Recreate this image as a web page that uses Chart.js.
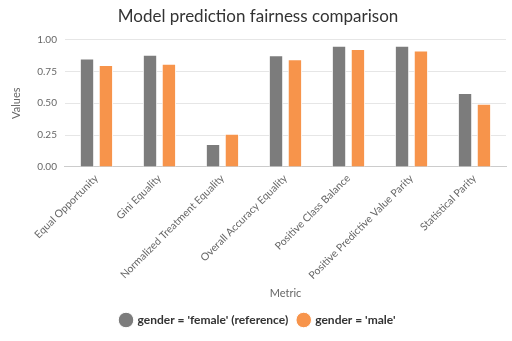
<!DOCTYPE html>
<html>
<head>
<meta charset="utf-8">
<script src="https://cdn.jsdelivr.net/npm/chart.js@4"></script>
<style>
  html, body { margin: 0; padding: 0; background: #fff; }
  #wrap { width: 512px; height: 341px; }
</style>
</head>
<body>
<div id="wrap"><canvas id="myChart" width="512" height="341"></canvas></div>
<script>
/* data */
const metrics = ['Equal Opportunity', 'Gini Equality', 'Normalized Treatment Equality', 'Overall Accuracy Equality', 'Positive Class Balance', 'Positive Predictive Value Parity', 'Statistical Parity'];
const femaleValues = [0.85, 0.88, 0.18, 0.875, 0.95, 0.95, 0.58];
const maleValues = [0.80, 0.81, 0.26, 0.845, 0.925, 0.913, 0.495];
const yTicks = [0, 0.25, 0.5, 0.75, 1];

const ctx = document.getElementById('myChart');
const myChart = new Chart(ctx, {
    type: 'bar',
    data: {
        labels: metrics,
        datasets: [{
            label: "gender = 'female' (reference)",
            data: femaleValues,
            backgroundColor: '#7c7c7c',
            borderColor: '#ffffff',
            borderWidth: 1,
            categoryPercentage: 0.6,
            barPercentage: 0.76
        }, {
            label: "gender = 'male'",
            data: maleValues,
            backgroundColor: '#f7944b',
            borderColor: '#ffffff',
            borderWidth: 1,
            categoryPercentage: 0.6,
            barPercentage: 0.76
        }]
    },
    options: {
        responsive: false,
        animation: false,
        layout: { padding: { left: 10, right: 6, top: 4, bottom: 5 } },
        plugins: {
            title: {
                display: true,
                text: 'Model prediction fairness comparison',
                color: '#333333',
                font: { family: 'Lato', size: 17, weight: 'normal' },
                padding: { top: 2, bottom: 13 }
            },
            legend: {
                position: 'bottom',
                labels: {
                    usePointStyle: true,
                    pointStyle: 'circle',
                    boxWidth: 11,
                    boxHeight: 11,
                    padding: 10,
                    color: '#333333',
                    font: { family: 'Lato', size: 12, weight: 'bold' }
                }
            },
            tooltip: { enabled: false }
        },
        scales: {
            x: {
                grid: { display: false, drawTicks: false },
                border: { color: '#cccccc' },
                ticks: {
                    color: '#666666',
                    font: { family: 'Lato', size: 10.5 },
                    maxRotation: 45,
                    minRotation: 45,
                    padding: 5
                },
                title: {
                    display: true,
                    text: 'Metric',
                    color: '#666666',
                    font: { family: 'Lato', size: 11 },
                    padding: { top: 0, bottom: 4 }
                }
            },
            y: {
                min: 0,
                max: 1,
                afterBuildTicks: function(axis) {
                    axis.ticks = yTicks.map(function(v) { return { value: v }; });
                },
                grid: { color: '#e6e6e6', drawTicks: false },
                border: { display: false },
                ticks: {
                    color: '#666666',
                    font: { family: 'Lato', size: 10 },
                    padding: 8,
                    callback: function(v) { return Number(v).toFixed(2); }
                },
                title: {
                    display: true,
                    text: 'Values',
                    color: '#666666',
                    font: { family: 'Lato', size: 11 },
                    padding: { top: 0, bottom: 6 }
                }
            }
        }
    }
});
</script>
</body>
</html>
